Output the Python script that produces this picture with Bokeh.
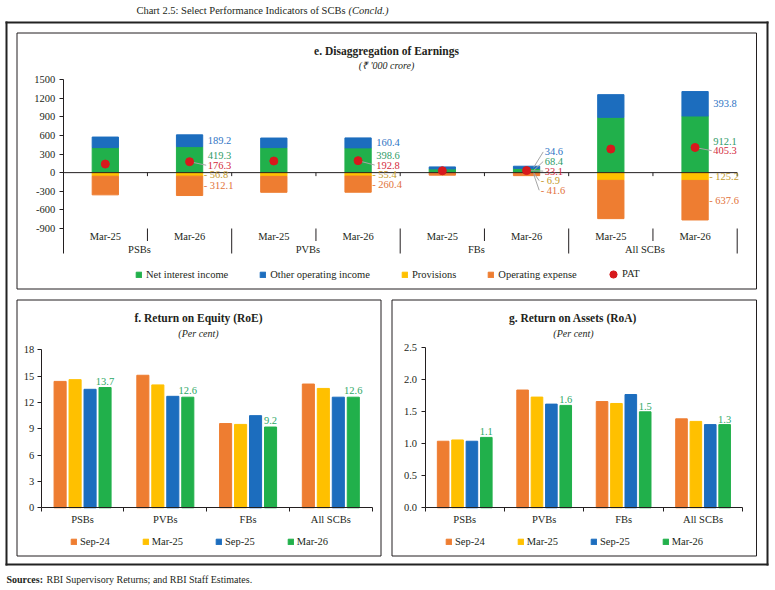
from bokeh.plotting import figure
from bokeh.models import (Legend, LegendItem, FixedTicker, LinearAxis, Range1d,
                          ColumnDataSource, NumeralTickFormatter)
from bokeh.embed import file_html
from bokeh.resources import INLINE
from bokeh.core.properties import value

FONT = "Liberation Serif"
INK = "#231f20"

# ---------------- data ----------------
# e. Disaggregation of earnings (Rs '000 crore), two periods per bank group
earn_groups = ["PSBs", "PVBs", "FBs", "All SCBs"]
earn_periods = ["Mar-25", "Mar-26"]
net_interest_income = [403.0, 419.3, 403.0, 398.6, 60.0, 68.4, 890.0, 912.1]
other_operating_income = [170.0, 189.2, 154.0, 160.4, 32.0, 34.6, 366.0, 393.8]
provisions = [-58.0, -56.8, -60.0, -55.4, -6.0, -6.9, -124.0, -125.2]
operating_expense = [-300.0, -312.1, -257.0, -260.4, -35.0, -41.6, -617.0, -637.6]
pat = [138.0, 176.3, 187.0, 192.8, 30.0, 33.1, 380.0, 405.3]
earn_ticks = [-900, -600, -300, 0, 300, 600, 900, 1200, 1500]

# f. / g. Return ratios (per cent)
ratio_groups = ["PSBs", "PVBs", "FBs", "All SCBs"]
ratio_periods = ["Sep-24", "Mar-25", "Sep-25", "Mar-26"]
roe_sep24 = [14.4, 15.1, 9.6, 14.1]
roe_mar25 = [14.6, 14.0, 9.5, 13.6]
roe_sep25 = [13.5, 12.7, 10.5, 12.6]
roe_mar26 = [13.7, 12.6, 9.2, 12.6]
roe_ticks = [0, 3, 6, 9, 12, 15, 18]
roa_sep24 = [1.04, 1.84, 1.66, 1.39]
roa_mar25 = [1.06, 1.73, 1.63, 1.35]
roa_sep25 = [1.04, 1.62, 1.77, 1.30]
roa_mar26 = [1.1, 1.6, 1.5, 1.3]
roa_ticks = [0.0, 0.5, 1.0, 1.5, 2.0, 2.5]

# ---------------- styling ----------------
C_NII, C_OOI, C_PROV, C_OPEX, C_PAT = "#21b04b", "#1c6dbe", "#ffc000", "#ee7d31", "#d7191c"
T_NII, T_OOI, T_PROV, T_OPEX, T_PAT = "#2f9c68", "#2e74c4", "#c49a2c", "#e2733a", "#d42a3c"
PERIOD_COLORS = ["#ee7d31", "#ffc000", "#1c6dbe", "#21b04b"]
LABEL_GREEN = "#2ea866"
FRAME = "#222222"

W, H = 775, 590

# one canvas; the default ranges are page pixels (y downwards),
# each panel gets its own pair of data ranges laid over the same canvas
p = figure(width=W, height=H, x_range=Range1d(0, W), y_range=Range1d(H, 0),
           min_border=0, x_axis_location=None, y_axis_location=None,
           toolbar_location=None, output_backend="svg")
p.xgrid.visible = False
p.ygrid.visible = False
p.outline_line_color = None
p.background_fill_color = "white"
p.border_fill_color = "white"


def x_range_at(d0, px0, px_per_unit):
    return Range1d(d0 - px0 / px_per_unit, d0 + (W - px0) / px_per_unit)


def y_range_at(v0, py0, px_per_unit):
    return Range1d(v0 - (H - py0) / px_per_unit, v0 + py0 / px_per_unit)


# panel e: category 0 starts at x=62.7, 1500 sits at row 79, -900 at row 228
E_PX_X = 84.25
E_PX_Y = 149.0 / (earn_ticks[-1] - earn_ticks[0])
# panel f: axis at x=40.7, 0 at row 507.3, 18 at row 349.3
F_PX_X = 82.75
F_PX_Y = 158.0 / roe_ticks[-1]
# panel g: axis at x=424.5, 0 at row 507.3, 2.5 at row 347.3
G_PX_X = 79.45
G_PX_Y = 160.0 / roa_ticks[-1]

p.extra_x_ranges = {"ex": x_range_at(0, 62.7, E_PX_X),
                    "fx": x_range_at(-0.5, 40.7, F_PX_X),
                    "gx": x_range_at(-0.5, 424.5, G_PX_X)}
p.extra_y_ranges = {"ey": y_range_at(earn_ticks[-1], 79.0, E_PX_Y),
                    "fy": y_range_at(0, 507.3, F_PX_Y),
                    "gy": y_range_at(0, 507.3, G_PX_Y)}
E = dict(x_range_name="ex", y_range_name="ey")
F = dict(x_range_name="fx", y_range_name="fy")
G = dict(x_range_name="gx", y_range_name="gy")


def ya(py):
    """page row -> value on the earnings axis"""
    return earn_ticks[-1] - (py - 79.0) / E_PX_Y


def page_text(x, y, text, size="10.5px", style="normal", align="center"):
    p.text(x=[x], y=[y], text=[text], text_font=value(FONT), text_font_size=size,
           text_font_style=style, text_align=align, text_baseline="middle", text_color=INK)


def style_axis(a, standoff, tick_out=4):
    a.axis_line_color = INK
    a.major_tick_line_color = INK
    a.major_tick_in = 0
    a.major_tick_out = tick_out
    a.minor_tick_line_color = None
    a.major_label_standoff = standoff
    a.major_label_text_font = FONT
    a.major_label_text_font_size = "10.5px"
    a.major_label_text_color = INK


def make_legend(items, x, y_center, spacing, glyph=7, standoff=4):
    return Legend(items=items, orientation="horizontal", location=(x, H - y_center - 6.5),
                  glyph_width=glyph, glyph_height=glyph, label_standoff=standoff,
                  spacing=spacing, padding=0, margin=0, label_height=10,
                  border_line_color=None, background_fill_alpha=0,
                  label_text_font=FONT, label_text_font_size="10.5px", label_text_color=INK)


# ---------------- page frame, panel boxes, headings ----------------
p.quad(left=[5, 5, 5, 766], right=[768, 768, 7, 768], top=[21, 563, 21, 21],
       bottom=[23, 565, 565, 565], fill_color=FRAME, line_color=None)
p.quad(left=[16.5, 16.5, 391.5], right=[756, 380.5, 756], top=[32.5, 299.5, 299.5],
       bottom=[288.5, 555.5, 555.5], fill_alpha=0, line_color=INK, line_width=1)

page_text(345, 10, "Chart 2.5: Select Performance Indicators of SCBs", size="10.5px", align="right")
page_text(348, 10, "(Concld.)", size="10.5px", style="italic", align="left")
page_text(386, 50, "e. Disaggregation of Earnings", size="11.5px", style="bold")
page_text(386, 65, "(\u20b9 '000 crore)", size="10px", style="italic")
page_text(198, 317.7, "f. Return on Equity (RoE)", size="11.5px", style="bold")
page_text(198, 333, "(Per cent)", size="10px", style="italic")
page_text(572.5, 317.7, "g. Return on Assets (RoA)", size="11.5px", style="bold")
page_text(573, 333, "(Per cent)", size="10px", style="italic")
page_text(6, 579, "Sources:", size="10px", style="bold", align="left")
page_text(46, 579, "RBI Supervisory Returns; and RBI Staff Estimates.", size="10px", align="left")

# ================= e. Disaggregation of Earnings =================
N_CAT = len(earn_groups) * len(earn_periods)
BW = 0.312
xs = [i + 0.5 for i in range(N_CAT)]
src = ColumnDataSource(dict(
    x=xs, nii=net_interest_income,
    pos_top=[a + b for a, b in zip(net_interest_income, other_operating_income)],
    prov=provisions,
    neg_bot=[a + b for a, b in zip(provisions, operating_expense)],
    pat=pat))

r_nii = p.vbar(x="x", bottom=0, top="nii", width=BW, source=src, fill_color=C_NII, line_color=C_NII, **E)
r_ooi = p.vbar(x="x", bottom="nii", top="pos_top", width=BW, source=src, fill_color=C_OOI, line_color=C_OOI, **E)
r_prov = p.vbar(x="x", bottom=0, top="prov", width=BW, source=src, fill_color=C_PROV, line_color=C_PROV, **E)
r_opex = p.vbar(x="x", bottom="prov", top="neg_bot", width=BW, source=src, fill_color=C_OPEX, line_color=C_OPEX, **E)

# zero line with category ticks
p.segment(x0=[0], x1=[N_CAT], y0=[0], y1=[0], line_color=INK, line_width=1, **E)
bx = list(range(1, N_CAT + 1))
p.segment(x0=bx, x1=bx, y0=[0] * len(bx), y1=[-3.5 / E_PX_Y] * len(bx), line_color=INK, **E)


def spread(natural, gap):
    """Push stacked label positions apart so neighbours keep a minimum gap."""
    pos = list(natural)
    for _ in range(300):
        for k in range(len(pos) - 1):
            d = pos[k] - pos[k + 1]
            if d < gap:
                s = (gap - d) / 2.0
                pos[k] += s
                pos[k + 1] -= s
    return pos


# data labels for the latest period of each group, with leader lines
lab = dict(x=[], y=[], t=[], c=[])
lead = dict(x0=[], y0=[], x1=[], y1=[])
gap = 9.6 / E_PX_Y
for i in range(1, N_CAT, 2):
    nii, ooi, prv, opx, pt = (net_interest_income[i], other_operating_income[i],
                              provisions[i], operating_expense[i], pat[i])
    natural = [nii + ooi / 2, nii / 2, pt, prv / 2, prv + opx / 2]
    placed = spread(natural, gap)
    texts = [f"{ooi:.1f}", f"{nii:.1f}", f"{pt:.1f}", f"- {abs(prv):.1f}", f"- {abs(opx):.1f}"]
    colors = [T_OOI, T_NII, T_PAT, T_PROV, T_OPEX]
    edge = xs[i] + BW / 2
    for k in range(5):
        tx = edge + (1.0 if k >= 3 else 5.0) / E_PX_X
        lab["x"].append(tx)
        lab["y"].append(placed[k])
        lab["t"].append(texts[k])
        lab["c"].append(colors[k])
        if k == 2:
            lead["x0"].append(xs[i]); lead["y0"].append(pt)
            lead["x1"].append(tx - 1.5 / E_PX_X); lead["y1"].append(placed[k])
        elif abs(placed[k] - natural[k]) > 6 / E_PX_Y:
            lead["x0"].append(edge - 6 / E_PX_X); lead["y0"].append(natural[k])
            lead["x1"].append(tx - 1.5 / E_PX_X); lead["y1"].append(placed[k])

p.segment(x0="x0", y0="y0", x1="x1", y1="y1", source=ColumnDataSource(lead),
          line_color="#a6a6a6", line_width=1, **E)
r_pat = p.scatter(x="x", y="pat", source=src, size=8, marker="circle",
                  fill_color=C_PAT, line_color=C_PAT, **E)
p.text(x="x", y="y", text="t", text_color="c", source=ColumnDataSource(lab),
       text_font=value(FONT), text_font_size="10.5px", text_baseline="middle", text_align="left", **E)

# two-level category band under the plot
per_lab = [earn_periods[i % 2] for i in range(N_CAT)]
p.text(x=xs, y=[ya(236)] * N_CAT, text=per_lab, text_font=value(FONT), text_font_size="10.5px",
       text_align="center", text_baseline="middle", text_color=INK, **E)
gx = [2 * g + 1 - 8 / E_PX_X for g in range(len(earn_groups))]
p.text(x=gx, y=[ya(248.5)] * len(gx), text=earn_groups, text_font=value(FONT),
       text_font_size="10.5px", text_align="center", text_baseline="middle", text_color=INK, **E)
sub = list(range(1, N_CAT, 2))
p.segment(x0=sub, x1=sub, y0=[ya(228)] * len(sub), y1=[ya(240.5)] * len(sub), line_color=INK, **E)
grp = list(range(2, N_CAT + 1, 2))
p.segment(x0=grp, x1=grp, y0=[ya(228)] * len(grp), y1=[ya(253)] * len(grp), line_color=INK, **E)

ay_e = LinearAxis(fixed_location=0, bounds=(ya(253), earn_ticks[-1]),
                  ticker=FixedTicker(ticks=earn_ticks),
                  major_label_overrides={t: str(t) for t in earn_ticks}, **E)
style_axis(ay_e, 4)
p.add_layout(ay_e, "left")

leg_e = make_legend([LegendItem(label="Net interest income", renderers=[r_nii]),
                     LegendItem(label="Other operating income", renderers=[r_ooi]),
                     LegendItem(label="Provisions", renderers=[r_prov]),
                     LegendItem(label="Operating expense", renderers=[r_opex])],
                    135, 273.5, 31)
p.add_layout(leg_e, "center")
# the PAT marker needs a larger glyph box to be drawn at a readable size
leg_pat = make_legend([LegendItem(label="PAT", renderers=[r_pat])], 604, 273.5, 0,
                      glyph=18, standoff=0)
leg_pat.location = (604, H - 273.5 - 9)
p.add_layout(leg_pat, "center")


# ================= f. / g. return ratios =================
def ratio_panel(rng, series, y_ticks, fmt, label_dy, legend_x, standoff):
    pitch, bw = 0.181, 0.146
    rends = []
    for j, vals in enumerate(series):
        off = (j - 1.5) * pitch
        r = p.vbar(x=[g + off for g in range(len(ratio_groups))], top=vals, bottom=0, width=bw,
                   fill_color=PERIOD_COLORS[j], line_color=PERIOD_COLORS[j], **rng)
        rends.append(r)
    last = series[-1]
    p.text(x=[g + 1.5 * pitch for g in range(len(ratio_groups))], y=last,
           text=[f"{v:.1f}" for v in last], text_font=value(FONT), text_font_size="10.5px",
           text_align="center", text_baseline="bottom", y_offset=label_dy,
           text_color=LABEL_GREEN, **rng)

    ay = LinearAxis(fixed_location=-0.5, bounds=(y_ticks[0], y_ticks[-1]),
                    ticker=FixedTicker(ticks=y_ticks),
                    formatter=NumeralTickFormatter(format=fmt), **rng)
    style_axis(ay, standoff)
    p.add_layout(ay, "left")

    n = len(ratio_groups)
    ax = LinearAxis(fixed_location=0, bounds=(-0.5, n - 0.5),
                    ticker=FixedTicker(ticks=list(range(n)),
                                       minor_ticks=[g - 0.5 for g in range(n + 1)]),
                    major_label_overrides={g: name for g, name in enumerate(ratio_groups)}, **rng)
    style_axis(ax, 2, tick_out=0)
    ax.major_tick_line_color = None
    ax.minor_tick_line_color = INK
    ax.minor_tick_out = 4
    ax.minor_tick_in = 0
    p.add_layout(ax, "below")

    leg = make_legend([LegendItem(label=t, renderers=[r]) for t, r in zip(ratio_periods, rends)],
                      legend_x, 540, 32, standoff=3)
    p.add_layout(leg, "center")


ratio_panel(F, [roe_sep24, roe_mar25, roe_sep25, roe_mar26], roe_ticks, "0", -3, 70, 3)
ratio_panel(G, [roa_sep24, roa_mar25, roa_sep25, roa_mar26], roa_ticks, "0.0", -2, 445, 4)

open("out.html", "w").write(file_html(p, INLINE))
